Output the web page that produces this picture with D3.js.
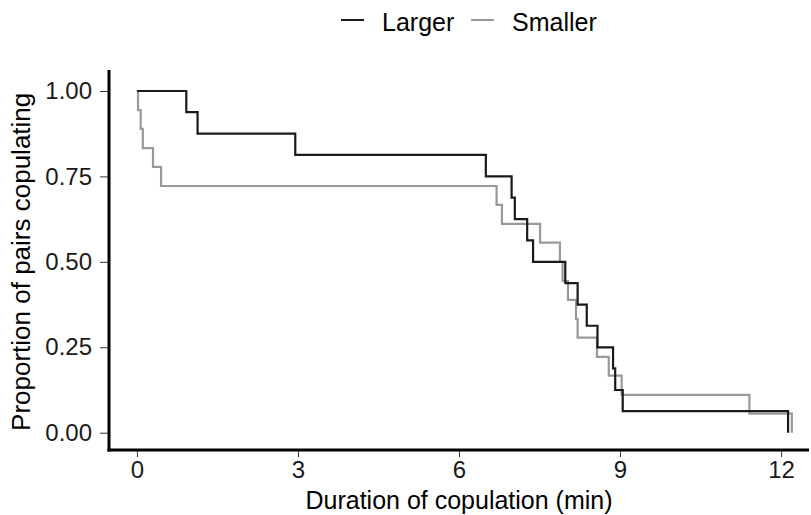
<!DOCTYPE html>
<html>
<head>
<meta charset="utf-8">
<script src="https://cdn.jsdelivr.net/npm/d3@7"></script>
<style>
  body { margin: 0; background: #fff; }
  svg { display: block; font-family: "Liberation Sans", Arial, sans-serif; }
</style>
</head>
<body>
<div id="chart"></div>
<script>
// Kaplan-Meier style step data
var largerTime = [0, 0.92, 1.13, 2.95, 6.50, 6.98, 7.04, 7.27, 7.38, 7.98, 8.21, 8.38, 8.58, 8.87, 8.91, 9.05, 12.13];
var largerProp = [1.000, 0.938, 0.875, 0.813, 0.750, 0.688, 0.625, 0.563, 0.500, 0.438, 0.375, 0.313, 0.250, 0.188, 0.125, 0.063, 0.000];

var smallerTime = [0, 0.02, 0.07, 0.11, 0.30, 0.45, 6.70, 6.80, 7.51, 7.88, 7.93, 8.03, 8.18, 8.21, 8.57, 8.79, 9.03, 11.41, 12.20];
var smallerProp = [1.000, 0.944, 0.889, 0.833, 0.778, 0.722, 0.667, 0.611, 0.556, 0.500, 0.444, 0.389, 0.333, 0.278, 0.222, 0.167, 0.111, 0.056, 0.000];

var xTicks = [0, 3, 6, 9, 12];
var yTicks = [0, 0.25, 0.5, 0.75, 1];

var groups = ["Larger", "Smaller"];
var colors = ["#1a1a1a", "#999999"];

var width = 811;
var height = 515;

var svg = d3.select("#chart").append("svg")
  .attr("width", width)
  .attr("height", height);

// scales (ggplot-ish 5% expansion)
var xScale = d3.scaleLinear()
  .domain([-0.52, 12.52])
  .range([109, 809]);

var yScale = d3.scaleLinear()
  .domain([-0.05, 1.05])
  .range([449.8, 73.9]);

// y axis
var yAxis = svg.append("g")
  .attr("transform", "translate(109,0)")
  .call(d3.axisLeft(yScale).tickValues(yTicks).tickFormat(d3.format(".2f")).tickSize(9).tickPadding(8).tickSizeOuter(0));

// x axis
var xAxis = svg.append("g")
  .attr("transform", "translate(0,450)")
  .call(d3.axisBottom(xScale).tickValues(xTicks).tickSize(7).tickPadding(4).tickSizeOuter(0));

[yAxis, xAxis].forEach(function(ax) {
  ax.select(".domain").remove();
  ax.selectAll(".tick line").attr("stroke", "#333").attr("stroke-width", 1);
  ax.selectAll(".tick text").attr("fill", "#1a1a1a").style("font-size", "24px");
});

// thick axis lines
svg.append("line")
  .attr("x1", 109).attr("x2", 109)
  .attr("y1", yScale.range()[1] - 4).attr("y2", 451.5)
  .attr("stroke", "#000").attr("stroke-width", 3);
svg.append("line")
  .attr("x1", 107.5).attr("x2", 809)
  .attr("y1", 450).attr("y2", 450)
  .attr("stroke", "#000").attr("stroke-width", 3);

// step lines
var line = d3.line()
  .x(function(d) { return xScale(d[0]); })
  .y(function(d) { return yScale(d[1]); })
  .curve(d3.curveStepAfter);

var smallerPts = smallerTime.map(function(t, i) { return [t, smallerProp[i]]; });
var largerPts = largerTime.map(function(t, i) { return [t, largerProp[i]]; });

svg.append("path")
  .datum(smallerPts)
  .attr("d", line)
  .attr("fill", "none")
  .attr("stroke", colors[1])
  .attr("stroke-width", 2.2);

svg.append("path")
  .datum(largerPts)
  .attr("d", line)
  .attr("fill", "none")
  .attr("stroke", colors[0])
  .attr("stroke-width", 2.2);

// axis titles
svg.append("text")
  .attr("transform", "translate(30," + ((yScale.range()[0] + yScale.range()[1]) / 2) + ") rotate(-90)")
  .attr("text-anchor", "middle")
  .attr("fill", "#000")
  .style("font-size", "26px")
  .text("Proportion of pairs copulating");

svg.append("text")
  .attr("x", (xScale.range()[0] + xScale.range()[1]) / 2)
  .attr("y", 509)
  .attr("text-anchor", "middle")
  .attr("fill", "#000")
  .style("font-size", "25px")
  .text("Duration of copulation (min)");

// legend
var legendX = [341, 471];
groups.forEach(function(g, i) {
  svg.append("line")
    .attr("x1", legendX[i]).attr("x2", legendX[i] + 23)
    .attr("y1", 20).attr("y2", 20)
    .attr("stroke", colors[i]).attr("stroke-width", 2);
  svg.append("text")
    .attr("x", legendX[i] + 41)
    .attr("y", 31)
    .attr("fill", "#000")
    .style("font-size", "25px")
    .text(g);
});
</script>
</body>
</html>
